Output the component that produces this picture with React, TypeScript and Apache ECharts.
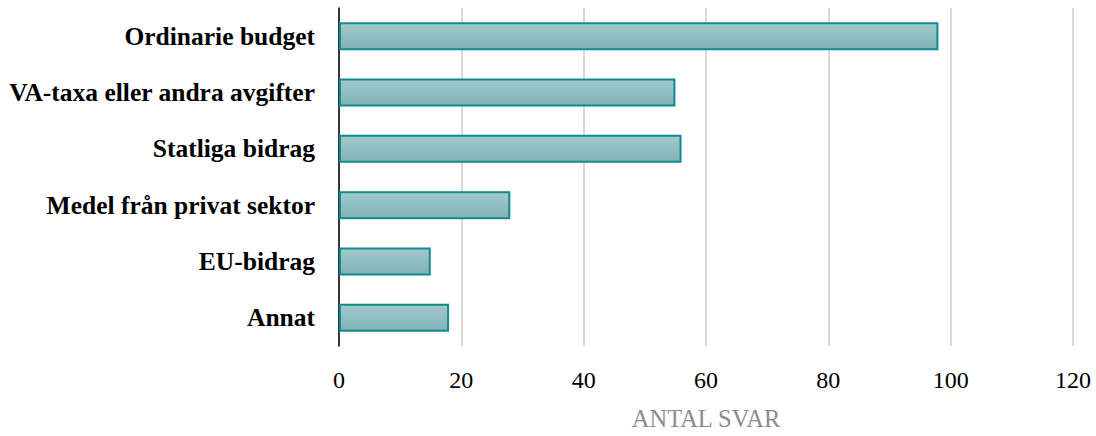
import React, { useEffect, useRef } from "react";
import * as echarts from "echarts";

const categories = [
  "Ordinarie budget",
  "VA-taxa eller andra avgifter",
  "Statliga bidrag",
  "Medel från privat sektor",
  "EU-bidrag",
  "Annat",
];
const values = [98, 55, 56, 28, 15, 18];
const xTicks = { min: 0, max: 120, interval: 20 };
const axisTitle = "ANTAL SVAR";

const FONT = "'Liberation Serif', 'DejaVu Serif', serif";

export default function App() {
  const ref = useRef<HTMLDivElement>(null);
  useEffect(() => {
    if (!ref.current) return;
    const chart = echarts.init(ref.current, undefined, { renderer: "svg" });
    chart.setOption({
      animation: false,
      backgroundColor: "#ffffff",
      grid: { left: 339, right: 23, top: 8, bottom: 86, containLabel: false },
      xAxis: {
        type: "value",
        min: xTicks.min,
        max: xTicks.max,
        interval: xTicks.interval,
        name: axisTitle,
        nameLocation: "middle",
        nameGap: 60,
        nameTextStyle: { color: "#8c8c8c", fontSize: 24.5, fontFamily: FONT },
        axisLine: { show: false },
        axisTick: { show: false },
        axisLabel: { color: "#000", fontSize: 24, fontFamily: FONT, margin: 22 },
        splitLine: { show: true, lineStyle: { color: "#d9d9d9", width: 2 } },
      },
      yAxis: {
        type: "category",
        data: categories,
        inverse: true,
        axisLine: { show: true, lineStyle: { color: "#000", width: 1.5 } },
        axisTick: { show: false },
        axisLabel: {
          color: "#000",
          fontSize: 25.5,
          fontWeight: "bold",
          fontFamily: FONT,
          margin: 24,
        },
      },
      series: [
        {
          type: "bar",
          data: values,
          barWidth: 28,
          itemStyle: {
            color: new echarts.graphic.LinearGradient(0, 0, 0, 1, [
              { offset: 0, color: "#a3c9cc" },
              { offset: 1, color: "#80b2b6" },
            ]),
            borderColor: "#0f8a8f",
            borderWidth: 2,
          },
        },
      ],
    });
    return () => chart.dispose();
  }, []);
  return (
    <div
      ref={ref}
      style={{ position: "fixed", left: 0, top: 0, width: 1096, height: 436 }}
    />
  );
}
